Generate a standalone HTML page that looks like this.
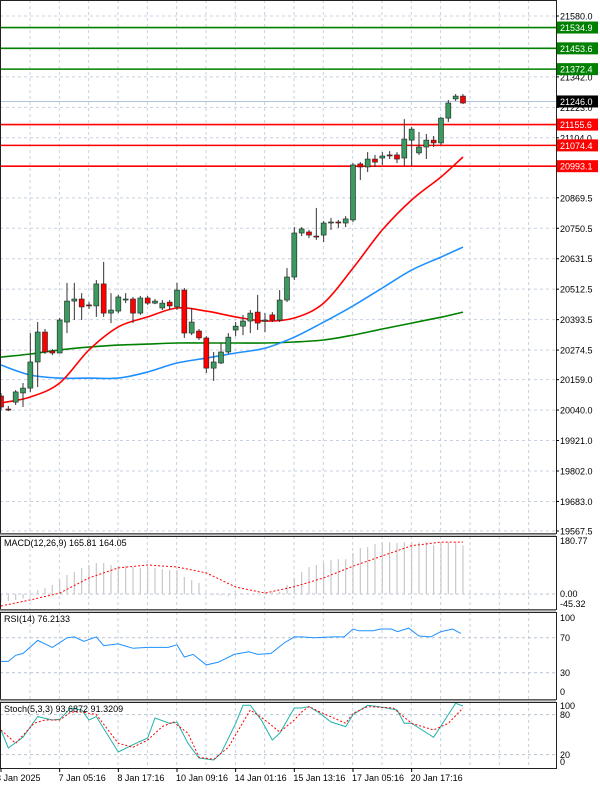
<!DOCTYPE html>
<html><head><meta charset="utf-8"><style>
html,body{margin:0;padding:0;background:#fff;width:600px;height:788px;overflow:hidden}
svg{display:block;font-family:"Liberation Sans",sans-serif}
</style></head><body>
<svg id="chart" width="600" height="788" viewBox="0 0 600 788" xmlns="http://www.w3.org/2000/svg">
<g id="grid"></g>
<g id="levels"></g>
<g id="mas"></g>
<g id="candles"></g>
<g id="ind"></g>
<g id="axes"></g>
</svg>
<script>
const opens=[20095,20044,20071,20107,20126,20228,20345,20271,20263,20384,20466,20474,20451,20447,20533,20419,20427,20474,20474,20419,20478,20458,20439,20462,20443,20509,20341,20349,20322,20204,20224,20267,20353,20368,20388,20423,20388,20412,20392,20470,20560,20732,20736,20720,20724,20771,20775,20771,20783,21002,20990,21021,21025,21037,21037,21025,21095,21045,21068,21095,21084,21181,21256,21267];
const highs=[20107,20056,20118,20146,20341,20384,20357,20279,20400,20537,20537,20497,20462,20548,20619,20497,20490,20497,20482,20486,20486,20474,20470,20470,20537,20517,20439,20357,20329,20267,20302,20341,20384,20412,20431,20490,20419,20423,20509,20595,20755,20755,20744,20830,20779,20791,20783,20798,21005,21009,21048,21037,21048,21052,21048,21177,21146,21127,21119,21111,21185,21252,21275,21275];
const lows=[20040,20036,20060,20052,20111,20130,20259,20255,20341,20341,20392,20392,20435,20404,20404,20380,20419,20458,20380,20412,20451,20454,20431,20431,20431,20322,20333,20314,20185,20154,20220,20259,20329,20333,20341,20353,20345,20384,20384,20462,20548,20720,20712,20705,20697,20744,20752,20755,20775,20939,20970,20990,20998,21021,21005,20994,20994,21037,21021,21068,21076,21166,21248,21236];
const closes=[20052,20042,20111,20126,20228,20345,20267,20263,20392,20466,20474,20443,20447,20533,20419,20431,20482,20474,20419,20478,20458,20466,20458,20447,20509,20341,20384,20322,20204,20228,20267,20325,20368,20388,20419,20380,20392,20392,20470,20560,20732,20748,20724,20718,20771,20775,20774,20787,20998,20990,21021,21009,21033,21036,21021,21099,21138,21068,21095,21084,21181,21240,21267,21240];
const maIdx=[0,4,8,12,16,20,24,28,32,36,40,44,48,52,56,60,63];
const maRed=[20068,20091,20146,20275,20365,20404,20439,20427,20404,20388,20400,20458,20595,20744,20861,20951,21029];
const maBlue=[20216,20177,20165,20165,20165,20189,20224,20243,20263,20282,20325,20384,20447,20517,20587,20638,20677];
const maGreen=[20247,20259,20275,20286,20294,20298,20302,20302,20302,20302,20306,20314,20333,20357,20380,20403,20423];
const macdHist=[-27,-24,-20,-15,-5,14,20,31,48,65,75,89,99,106,106,99,96,96,92,89,92,89,85,82,82,58,48,38,0,-3,-5,-6,-5,-3,0,2,3,5,8,31,55,75,92,99,106,116,119,119,140,157,160,171,177,177,174,177,177,177,177,167,177,177,177,166];
const sigIdx=[0,4,8,12,16,20,24,28,32,36,40,44,48,52,56,60,63];
const sigVal=[-41,-20,3,55,89,99,92,72,24,3,25,55,95,130,165,177,177];
const rsiIdx=[0,1,2,3,5,7,9,10,11.3,13,14,16,18,20,22.8,24,25,26.2,28,29.6,31.8,33.8,35,36.8,38.6,40,41,42.7,45.4,46.8,48,48.8,50.7,51.8,53.2,54.1,55.6,57,58.6,60,61.6,62.7];
const rsiVal=[43,43,50,52,67,59,70,71,66,71,61,63,58,59,59,62,48,51,39,42,51,54,51,52,64,71,71,70,71,71,80,78,78,80,80,77,81,72,71,77,80,75];
const stKIdx=[0,1,3,5,7,8,9.5,11,12,13,16,18,20,21,23,24,25.5,27,29,30,32,33,34,35.5,37,38,40,41,42,43.5,45,47,48,50,51.5,54,55,56,57,59,62,63];
const stKVal=[57,30,46,77,72,73,90,87,72,77,24,35,45,75,67,69,37,15,12,22,67,94,94,72,42,52,90,90,92,82,69,62,80,94,92,87,67,67,60,46,97,93];
const stDIdx=[0,2,4.5,6,8,9.5,11,13,16,18,20,22,23.5,25.5,27,29,31,34,36,38,40,41,42,43.5,47,48,50,53.5,56,59,61,63];
const stDVal=[57,37,67,72,72,84,84,80,37,31,42,62,69,52,16,13,31,87,72,54,72,84,92,84,67,82,92,90,67,57,67,90];
const priceTicks=[21580.0,21342.0,21223.0,21104.0,20869.5,20750.5,20631.5,20512.5,20393.5,20274.5,20159.0,20040.0,19921.0,19802.0,19683.0,19567.5];
const greenLevels=[21534.9,21453.6,21372.4];
const redLevels=[21155.6,21074.4,20993.1];
const lastPrice=21246.0;
const dateLabels=["3 Jan 2025","7 Jan 05:16","8 Jan 17:16","10 Jan 09:16","14 Jan 01:16","15 Jan 13:16","17 Jan 05:16","20 Jan 17:16"];
const dateIdx=[0,8,16,24,32,40,48,56];

const NS="http://www.w3.org/2000/svg";
const X=i=>1+i*7.333;
const PY=p=>16+(21580-p)*0.2559;
const MY=v=>594-v*0.293;
const RY=v=>699-v*0.875;
const SY=v=>768-v*0.667;
const PW=556;
function mk(par,tag,a,txt){const e=document.createElementNS(NS,tag);for(const k in a)e.setAttribute(k,a[k]);if(txt!=null)e.textContent=txt;document.getElementById(par).appendChild(e);return e;}
function poly(par,xs,ys,col,w,dash,name){const pts=xs.map((x,i)=>x.toFixed(1)+","+ys[i].toFixed(1)).join(" ");const e=mk(par,"polyline",{points:pts,fill:"none",stroke:col,"stroke-width":w});if(dash)e.setAttribute("stroke-dasharray",dash);

return e;}
function smooth(par,xs,ys,col,w,name){let d="M"+xs[0]+","+ys[0];
for(let i=0;i<xs.length-1;i++){const x0=xs[Math.max(0,i-1)],y0=ys[Math.max(0,i-1)],x1=xs[i],y1=ys[i],x2=xs[i+1],y2=ys[i+1],x3=xs[Math.min(xs.length-1,i+2)],y3=ys[Math.min(xs.length-1,i+2)];
d+=" C"+(x1+(x2-x0)/6).toFixed(1)+","+(y1+(y2-y0)/6).toFixed(1)+" "+(x2-(x3-x1)/6).toFixed(1)+","+(y2-(y3-y1)/6).toFixed(1)+" "+x2.toFixed(1)+","+y2.toFixed(1);}
const e=mk(par,"path",{d:d,fill:"none",stroke:col,"stroke-width":w});

}

const panels=[[0,533],[536,609],[612,699],[702,768]];
for(let gx=30;gx<PW;gx+=29.33){panels.forEach(p=>{const l=mk("grid","line",{x1:gx,x2:gx,y1:p[0],y2:p[1],stroke:"#c8d2e0","stroke-dasharray":"3,3"});

});}
priceTicks.forEach(p=>{const l=mk("grid","line",{x1:0,x2:PW,y1:PY(p),y2:PY(p),stroke:"#c8d2e0","stroke-dasharray":"3,3"});

});
[[MY(0)],[RY(70)],[RY(30)],[SY(80)],[SY(20)]].forEach(a=>{const l=mk("grid","line",{x1:0,x2:PW,y1:a[0],y2:a[0],stroke:"#b8c4d4","stroke-dasharray":"3,3"});

});

greenLevels.forEach(p=>{const l=mk("levels","line",{x1:0,x2:PW,y1:PY(p),y2:PY(p),stroke:"#008000","stroke-width":1.6});

});
redLevels.forEach(p=>{const l=mk("levels","line",{x1:0,x2:PW,y1:PY(p),y2:PY(p),stroke:"#ff0000","stroke-width":1.6});

});
{const l=mk("levels","line",{x1:0,x2:PW,y1:PY(lastPrice),y2:PY(lastPrice),stroke:"#b0c4de","stroke-width":1});

}

smooth("mas",maIdx.map(X),maGreen.map(PY),"#008000",1.6,"ma-green");
smooth("mas",maIdx.map(X),maBlue.map(PY),"#1e90ff",1.6,"ma-blue");
smooth("mas",maIdx.map(X),maRed.map(PY),"#ff0000",1.6,"ma-red");

opens.forEach((o,i)=>{const c=closes[i],x=X(i);
const w=mk("candles","line",{x1:x,x2:x,y1:PY(highs[i]),y2:PY(lows[i]),stroke:"#333","stroke-width":1});


const top=PY(Math.max(o,c)),bot=PY(Math.min(o,c));
const b=mk("candles","rect",{x:x-2.5,y:top,width:5,height:Math.max(1,bot-top),fill:c>=o?"#3a9a60":"#ff0000",stroke:"#222","stroke-width":0.6});

});

macdHist.forEach((v,i)=>{const l=mk("ind","line",{x1:X(i),x2:X(i),y1:MY(0),y2:MY(v),stroke:"#c8c8c8","stroke-width":1.2});

});
poly("ind",sigIdx.map(X),sigVal.map(MY),"#ff0000",1,"2,2","macd-signal");
poly("ind",rsiIdx.map(X),rsiVal.map(RY),"#1e90ff",1,null,"rsi-line");
poly("ind",stKIdx.map(X),stKVal.map(SY),"#20b2aa",1,null,"stoch-main");
poly("ind",stDIdx.map(X),stDVal.map(SY),"#ff0000",1,"2,2","stoch-signal");

[[0,0,PW,533],[0,536,PW,73],[0,612,PW,87],[0,702,PW,66]].forEach(r=>{const e=mk("axes","rect",{x:r[0]+0.5,y:r[1]+0.5,width:r[2],height:r[3],fill:"none",stroke:"#222","stroke-width":1});

});
[534.5,610.5,700.5].forEach(y=>{const e=mk("axes","line",{x1:0,x2:PW,y1:y,y2:y,stroke:"#999","stroke-width":2});

});

priceTicks.forEach(p=>{const y=PY(p);
const t=mk("axes","text",{x:560,y:y+3.5,"font-size":9,fill:"#000"},p.toFixed(1));


const tk=mk("axes","line",{x1:PW,x2:PW+3,y1:y,y2:y,stroke:"#000"});

});
function tag(p,col,name){const y=PY(p);
const r=mk("axes","rect",{x:557,y:y-6,width:41,height:12,fill:col});


const t=mk("axes","text",{x:560,y:y+3.5,"font-size":9,fill:"#fff"},p.toFixed(1));

}
greenLevels.forEach(p=>tag(p,"#008000","resistance"));
redLevels.forEach(p=>tag(p,"#ff0000","support"));
tag(lastPrice,"#000","last-price");

[["MACD(12,26,9) 165.81 164.05",546,"macd-title"],["RSI(14) 76.2133",622,"rsi-title"],["Stoch(5,3,3) 93.6872 91.3209",712,"stoch-title"]].forEach(a=>{
const t=mk("axes","text",{x:4,y:a[1],"font-size":9,fill:"#000"},a[0]);

});
[["180.77",544],["0.00",597],["-45.32",607],["100",621],["70",641],["30",676],["0",695],["100",709],["80",718],["20",758],["0",765]].forEach(a=>{
const t=mk("axes","text",{x:560,y:a[1],"font-size":9,fill:"#000"},a[0]);

});

dateLabels.forEach((d,i)=>{const x=X(dateIdx[i]);
const tk=mk("axes","line",{x1:x,x2:x,y1:768,y2:772,stroke:"#000"});


const t=mk("axes","text",{x:i===0?-4:x-1,y:781,"font-size":9,fill:"#000"},d);

});
</script>
</body></html>
